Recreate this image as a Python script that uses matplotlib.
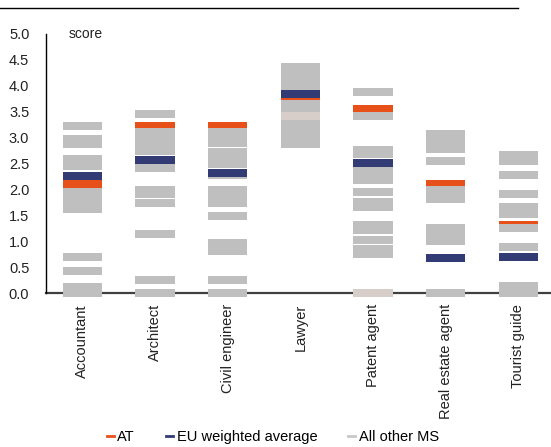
import matplotlib
matplotlib.use("Agg")
import matplotlib.pyplot as plt
from matplotlib.lines import Line2D

plt.rcParams['font.family'] = ['Liberation Sans', 'DejaVu Sans']

# Occupations on the x axis
occupations = ['Accountant', 'Architect', 'Civil engineer', 'Lawyer',
               'Patent agent', 'Real estate agent', 'Tourist guide']

# Scores of the other member states, one list per occupation
accountant_ms = [3.22, 2.96, 2.87, 2.59, 2.44, 1.94, 1.81, 1.69, 1.61, 0.69, 0.42, 0.12, 0.0]
architect_ms = [3.45, 3.11, 2.975, 2.84, 2.745, 2.40, 1.98, 1.90, 1.73, 1.14, 0.25, 0.0]
civil_eng_ms = [3.11, 2.975, 2.90, 2.71, 2.63, 2.55, 2.48, 2.27, 1.98, 1.84, 1.73,
                1.48, 0.96, 0.81, 0.25, 0.0]
lawyer_ms = [4.36, 4.24, 4.13, 3.99, 3.65, 3.57, 3.26, 3.13, 2.99, 2.88]
patent_ms = [3.87, 3.42, 2.76, 2.67, 2.36, 2.25, 2.17, 1.94, 1.75, 1.65, 1.31, 1.21,
             1.02, 0.845, 0.75]
real_estate_ms = [3.07, 2.94, 2.86, 2.78, 2.55, 1.98, 1.90, 1.82, 1.25, 1.13, 1.00, 0.0]
tourist_ms = [2.65, 2.55, 2.28, 1.90, 1.65, 1.52, 1.25, 0.88, 0.13, 0.0]
other_ms = [accountant_ms, architect_ms, civil_eng_ms, lawyer_ms,
            patent_ms, real_estate_ms, tourist_ms]

# Lighter highlighted member state (only shown where visible)
light_ms = [None, None, None, 3.42, 0.0, None, None]

at_scores = [2.11, 3.21, 3.21, 3.80, 3.55, 2.11, 1.32]
eu_avg = [2.26, 2.57, 2.32, 3.84, 2.51, 0.67, 0.69]

c_at = '#E8501A'
c_eu = '#333B74'
c_ms = '#BFBFBF'
c_light = '#D7CEC9'

thick = 0.154
width = 0.54

fig = plt.figure(figsize=(5.51, 4.47), dpi=100)
ax = fig.add_axes([46 / 551, 0.3445, 1 - 46 / 551, 0.5805])

for i, name in enumerate(occupations):
    # AT first, the other markers are drawn over it
    ax.bar(i, thick, bottom=at_scores[i] - thick / 2, width=width,
           color=c_at, clip_on=False, zorder=3)
    for v in other_ms[i]:
        ax.bar(i, thick, bottom=v - thick / 2, width=width,
               color=c_ms, clip_on=False, zorder=4)
    if light_ms[i] is not None:
        ax.bar(i, thick, bottom=light_ms[i] - thick / 2, width=width,
               color=c_light, clip_on=False, zorder=5)
    ax.bar(i, thick, bottom=eu_avg[i] - thick / 2, width=width,
           color=c_eu, clip_on=False, zorder=6)

ax.set_xlim(-0.5, 6.45)
ax.set_ylim(0, 5)
ax.set_yticks([0, 0.5, 1, 1.5, 2, 2.5, 3, 3.5, 4, 4.5, 5])
ax.set_yticklabels([f'{t:.1f}' for t in ax.get_yticks()])
ax.set_xticks(range(len(occupations)))
ax.set_xticklabels(occupations, rotation=90)
ax.tick_params(axis='y', length=0, pad=12, labelsize=10.5, labelcolor='#222222')
ax.tick_params(axis='x', length=0, pad=8, labelsize=10.5, labelcolor='#222222')

for s in ['top', 'right']:
    ax.spines[s].set_visible(False)
ax.spines['left'].set_color('black')
ax.spines['left'].set_linewidth(1.0)
ax.spines['bottom'].set_color('#404040')
ax.spines['bottom'].set_linewidth(1.6)
ax.spines['bottom'].set_zorder(2)

ax.text(-0.19, 5.0, 'score', ha='left', va='center', fontsize=10, color='#222222')

# Cut-off title and rule at the top
fig.text(0.602, 1.006, '(2021)', color='#2E3192', fontsize=11, fontweight='bold',
         ha='center', va='baseline')
fig.add_artist(Line2D([0.0, 0.94], [1 - 8 / 447, 1 - 8 / 447],
                      color='black', linewidth=1.0))

handles = [Line2D([], [], color=c_at, linewidth=2),
           Line2D([], [], color=c_eu, linewidth=2),
           Line2D([], [], color='#C8C8C8', linewidth=2)]
fig.legend(handles, ['AT', 'EU weighted average', 'All other MS'],
           loc='center', bbox_to_anchor=(0.495, 0.023), ncol=3, frameon=False,
           handlelength=0.5, handletextpad=0.25, columnspacing=2.1,
           fontsize=10.5)

fig.savefig('out.png', dpi=100)
